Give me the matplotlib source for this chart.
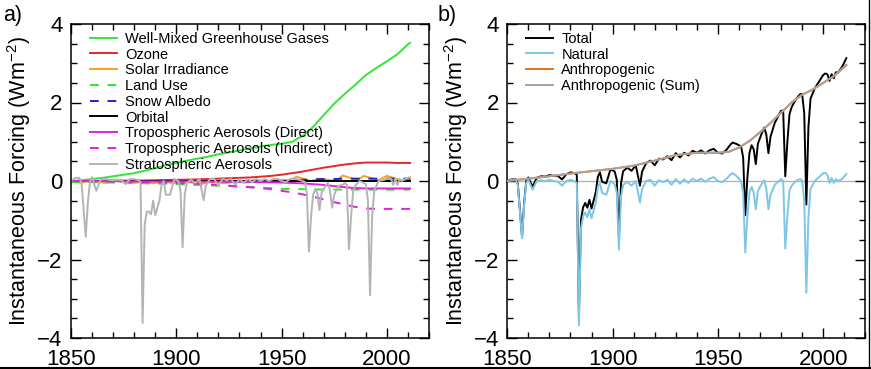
import matplotlib
matplotlib.use("Agg")
import matplotlib.pyplot as plt
from matplotlib.ticker import MultipleLocator
from matplotlib.lines import Line2D

plt.rcParams['font.family'] = ['Liberation Sans', 'DejaVu Sans']
plt.rcParams['mathtext.fontset'] = 'custom'
plt.rcParams['mathtext.rm'] = 'Liberation Sans'
plt.rcParams['mathtext.default'] = 'regular'

# ---------------- panel a: individual forcings (Wm-2) ----------------
years_5 = [1850, 1855, 1860, 1865, 1870, 1875, 1880, 1885, 1890, 1895,
           1900, 1905, 1910, 1915, 1920, 1925, 1930, 1935, 1940, 1945,
           1950, 1955, 1960, 1965, 1970, 1975, 1980, 1985, 1990, 1995,
           2000, 2005, 2010, 2011]

wmghg = [0.0, 0.02, 0.05, 0.08, 0.12, 0.16, 0.2, 0.26, 0.33, 0.4,
         0.46, 0.52, 0.57, 0.62, 0.68, 0.73, 0.78, 0.83, 0.88, 0.92,
         0.95, 1.0, 1.15, 1.38, 1.68, 1.97, 2.22, 2.45, 2.7, 2.88,
         3.05, 3.23, 3.48, 3.52]
ozone = [0.0, 0.0, 0.0, 0.005, 0.01, 0.01, 0.01, 0.015, 0.02, 0.025,
         0.03, 0.035, 0.04, 0.05, 0.06, 0.07, 0.08, 0.09, 0.11, 0.13,
         0.16, 0.2, 0.24, 0.29, 0.34, 0.38, 0.42, 0.45, 0.47, 0.47,
         0.47, 0.46, 0.46, 0.46]
land_use = [-0.02, -0.03, -0.03, -0.04, -0.04, -0.05, -0.05, -0.06, -0.07, -0.07,
            -0.08, -0.09, -0.1, -0.11, -0.12, -0.13, -0.14, -0.15, -0.17, -0.18,
            -0.2, -0.2, -0.21, -0.21, -0.22, -0.22, -0.22, -0.22, -0.22, -0.22,
            -0.22, -0.22, -0.22, -0.22]
snow_albedo = [0.0, 0.0, 0.0, 0.0, 0.0, 0.0, 0.0, 0.0, 0.0, 0.0,
               0.0, 0.0, 0.0, 0.0, 0.0, 0.0, 0.0, 0.0, 0.0, 0.0,
               0.0, 0.01, 0.03, 0.04, 0.05, 0.05, 0.06, 0.06, 0.06, 0.06,
               0.06, 0.06, 0.06, 0.06]
aer_direct = [0.0, 0.0, 0.0, 0.0, -0.005, -0.005, -0.01, -0.01, -0.01, -0.01,
              -0.01, -0.01, -0.015, -0.015, -0.02, -0.02, -0.02, -0.025, -0.03, -0.035,
              -0.04, -0.05, -0.06, -0.08, -0.1, -0.13, -0.16, -0.18, -0.19, -0.19,
              -0.19, -0.19, -0.19, -0.19]
aer_indirect = [0.0, -0.005, -0.01, -0.01, -0.015, -0.02, -0.025, -0.03, -0.035, -0.04,
                -0.05, -0.06, -0.07, -0.085, -0.1, -0.12, -0.14, -0.16, -0.18, -0.21,
                -0.25, -0.29, -0.34, -0.4, -0.47, -0.54, -0.6, -0.66, -0.7, -0.71,
                -0.71, -0.71, -0.71, -0.71]

orbital_years = [1850, 2011]
orbital = [0.0, 0.0]

solar_years = [1850, 1855, 1860, 1866, 1870, 1878, 1884, 1889, 1894, 1901,
               1906, 1912, 1917, 1923, 1928, 1933, 1937, 1944, 1947, 1954,
               1957, 1964, 1968, 1976, 1979, 1986, 1989, 1996, 2000, 2008, 2011]
solar = [0.0, -0.04, 0.01, -0.05, 0.02, -0.06, -0.02, -0.06, -0.02, -0.07,
         -0.03, -0.07, -0.02, -0.06, -0.01, -0.04, 0.03, -0.01, 0.05, 0.0,
         0.11, 0.0, 0.06, 0.0, 0.14, 0.02, 0.13, 0.02, 0.13, 0.0, 0.05]

# volcanic years shared by stratospheric aerosols, natural and total
v_years = [1850, 1852, 1854, 1855, 1857, 1858, 1859, 1860, 1862, 1864,
           1866, 1868, 1870, 1872, 1874, 1876, 1878, 1880, 1882, 1883,
           1884, 1885, 1886, 1887, 1888, 1889, 1890, 1892, 1893, 1894,
           1895, 1897, 1899, 1901, 1902, 1903, 1904, 1905, 1907, 1909,
           1911, 1913, 1914, 1916, 1918, 1920, 1922, 1924, 1926, 1928,
           1930, 1932, 1934, 1936, 1938, 1940, 1942, 1944, 1946, 1948,
           1950, 1952, 1954, 1956, 1957, 1959, 1961, 1962, 1963, 1964,
           1965, 1966, 1967, 1968, 1969, 1971, 1972, 1973, 1974, 1975,
           1977, 1979, 1980, 1981, 1982, 1983, 1984, 1985, 1987, 1989,
           1990, 1991, 1992, 1993, 1994, 1996, 1998, 2000, 2001, 2002,
           2003, 2004, 2005, 2006, 2007, 2009, 2011]

strat_aer = [0.0, 0.08, 0.08, -0.05, -1.42, -0.55, -0.02, 0.1, -0.25, 0.03,
             0.06, 0.03, 0.02, 0.03, 0.02, -0.08, 0.05, 0.05, 0.02, -0.02,
             -3.62, -1.1, -0.78, -0.78, -0.85, -0.5, -0.87, -0.5, -0.1, 0.0,
             -0.35, -0.35, 0.05, 0.0, -0.25, -1.69, -0.35, -0.05, 0.03, -0.05,
             0.05, -0.49, -0.12, 0.05, 0.05, -0.12, 0.05, 0.02, 0.05, -0.1,
             0.05, -0.05, 0.05, -0.03, 0.05, 0.0, 0.05, 0.0, 0.05, 0.05,
             0.0, -0.03, 0.05, 0.06, 0.05, 0.02, -0.02, -0.3, -1.8, -0.9,
             -0.35, -0.2, -0.3, -0.74, -0.3, -0.1, -0.05, -0.25, -0.68, -0.35,
             -0.12, -0.1, -0.05, -0.1, -1.74, -0.9, -0.25, -0.12, 0.0, -0.05,
             -0.08, -0.5, -2.91, -0.9, -0.25, 0.0, 0.02, 0.05, 0.06, 0.05,
             -0.1, 0.05, -0.1, 0.05, 0.0, 0.05, 0.1]

# ---------------- panel b: totals (Wm-2) ----------------
natural = [0.0, 0.03, 0.02, -0.1, -1.46, -0.6, -0.05, 0.03, -0.22, 0.0,
           0.02, 0.0, 0.03, 0.0, -0.02, -0.12, 0.0, 0.03, 0.0, -0.05,
           -3.68, -1.2, -0.9, -0.8, -0.92, -0.72, -0.95, -0.55, -0.15, -0.05,
           -0.3, -0.35, 0.0, -0.08, -0.3, -1.75, -0.4, -0.1, -0.02, -0.12,
           0.0, -0.55, -0.2, 0.0, 0.03, -0.12, 0.02, -0.03, 0.03, -0.1,
           0.05, -0.07, 0.04, -0.05, 0.06, 0.0, 0.06, -0.02, 0.06, 0.1,
           0.0, -0.03, 0.05, 0.17, 0.2, 0.12, 0.0, -0.3, -1.82, -0.9,
           -0.3, -0.15, -0.3, -0.72, -0.25, -0.05, 0.02, -0.2, -0.72, -0.35,
           -0.1, 0.0, 0.05, 0.0, -1.72, -0.9, -0.25, -0.12, 0.0, 0.05,
           0.02, -0.5, -2.85, -0.9, -0.2, 0.0, 0.1, 0.2, 0.21, 0.15,
           -0.05, 0.08, -0.05, 0.05, 0.0, 0.05, 0.18]
total = [0.0, 0.04, 0.04, -0.07, -1.42, -0.55, 0.0, 0.09, -0.15, 0.08,
         0.12, 0.11, 0.15, 0.13, 0.13, 0.04, 0.17, 0.22, 0.2, 0.16,
         -3.43, -0.98, -0.67, -0.56, -0.68, -0.48, -0.7, -0.29, 0.11, 0.22,
         -0.02, -0.06, 0.3, 0.24, 0.03, -1.42, -0.06, 0.25, 0.34, 0.26,
         0.4, -0.12, 0.24, 0.46, 0.52, 0.4, 0.57, 0.55, 0.63, 0.53,
         0.71, 0.6, 0.72, 0.65, 0.77, 0.72, 0.78, 0.7, 0.78, 0.82,
         0.72, 0.7, 0.79, 0.93, 0.98, 0.94, 0.88, 0.6, -0.87, 0.08,
         0.72, 0.91, 0.81, 0.43, 0.95, 1.24, 1.36, 1.18, 0.71, 1.13,
         1.48, 1.69, 1.79, 1.79, 0.12, 1.0, 1.7, 1.88, 2.08, 2.21,
         2.22, 1.73, -0.6, 1.38, 2.1, 2.36, 2.53, 2.7, 2.74, 2.72,
         2.55, 2.72, 2.62, 2.77, 2.76, 2.91, 3.13]

anth_years = [1850, 1860, 1870, 1880, 1890, 1900, 1910, 1920, 1930, 1940,
              1950, 1955, 1960, 1965, 1970, 1975, 1980, 1985, 1990, 1995,
              2000, 2005, 2011]
anthropogenic = [0.0, 0.06, 0.12, 0.19, 0.25, 0.31, 0.39, 0.52, 0.66, 0.72,
                 0.72, 0.74, 0.85, 1.02, 1.24, 1.48, 1.74, 2.0, 2.2, 2.33,
                 2.5, 2.67, 2.95]
anthropogenic_sum = [0.0, 0.06, 0.12, 0.19, 0.25, 0.31, 0.39, 0.52, 0.66, 0.72,
                     0.72, 0.74, 0.85, 1.02, 1.24, 1.48, 1.74, 2.0, 2.2, 2.33,
                     2.5, 2.67, 2.96]

W, H = 871, 369
fig = plt.figure(figsize=(W / 100, H / 100), dpi=100)
ax_a = fig.add_axes([71 / W, (H - 338) / H, 358 / W, 314 / H])
ax_b = fig.add_axes([507.3 / W, (H - 338) / H, 358 / W, 314 / H])

lw = 1.4
dash = (4.5, 4.5)

ax_a.plot(years_5, wmghg, color='#33e633', lw=lw, label='Well-Mixed Greenhouse Gases')
ax_a.plot(years_5, ozone, color='#e8262a', lw=lw, label='Ozone')
ax_a.plot(solar_years, solar, color='#f5a21e', lw=lw, label='Solar Irradiance')
ax_a.plot(years_5, land_use, color='#33e633', lw=lw, dashes=dash, label='Land Use')
ax_a.plot(years_5, snow_albedo, color='#2222cc', lw=lw, dashes=dash, label='Snow Albedo')
ax_a.plot(orbital_years, orbital, color='black', lw=lw, label='Orbital')
ax_a.plot(years_5, aer_direct, color='#e020e0', lw=lw, label='Tropospheric Aerosols (Direct)')
ax_a.plot(years_5, aer_indirect, color='#e020e0', lw=lw, dashes=dash,
          label='Tropospheric Aerosols (Indirect)')
ax_a.plot(v_years, strat_aer, color='#b4b4b4', lw=lw, label='Stratospheric Aerosols')

ax_b.axhline(0, color='#b4b4b4', lw=1.0, zorder=1)
ax_b.plot(v_years, total, color='black', lw=lw, label='Total', zorder=3)
ax_b.plot(v_years, natural, color='#7cc6e6', lw=lw, label='Natural', zorder=4)
ax_b.plot(anth_years, anthropogenic, color='#e8701a', lw=lw, label='Anthropogenic', zorder=5)
ax_b.plot(anth_years, anthropogenic_sum, color='#a9a29c', lw=lw,
          label='Anthropogenic (Sum)', zorder=6)

for ax in (ax_a, ax_b):
    ax.set_xlim(1850, 2020)
    ax.set_ylim(-4, 4)
    ax.xaxis.set_major_locator(MultipleLocator(50))
    ax.xaxis.set_minor_locator(MultipleLocator(10))
    ax.yaxis.set_major_locator(MultipleLocator(2))
    ax.yaxis.set_minor_locator(MultipleLocator(0.5))
    ax.tick_params(which='both', direction='in', top=True, right=True, width=1)
    ax.tick_params(which='major', length=7, labelsize=16)
    ax.tick_params(which='minor', length=4)
    ax.tick_params(axis='x', pad=8)
    ax.tick_params(axis='y', pad=6)
    for s in ax.spines.values():
        s.set_linewidth(1.1)
    ax.set_ylabel('Instantaneous Forcing (Wm$^{-2}$)', fontsize=15.5)
    ax.yaxis.set_label_coords(-0.105, 0.5)
    ax.legend(loc='upper left', bbox_to_anchor=(0.053, 0.975), frameon=False,
              fontsize=10.5, handlelength=1.85, handletextpad=0.55,
              labelspacing=0.12, borderpad=0, borderaxespad=0)

fig.text(3 / W, 1 - 5 / H, 'a)', fontsize=15.5, ha='left', va='top')
fig.text(438 / W, 1 - 5 / H, 'b)', fontsize=15.5, ha='left', va='top')

# screenshot frame edges
fig.add_artist(Line2D([0, 1], [1.5 / H, 1.5 / H], color='black', lw=1.5))
fig.add_artist(Line2D([868.5 / W, 868.5 / W], [0, 1], color='black', lw=1.0))

fig.savefig('out.png', dpi=100)
